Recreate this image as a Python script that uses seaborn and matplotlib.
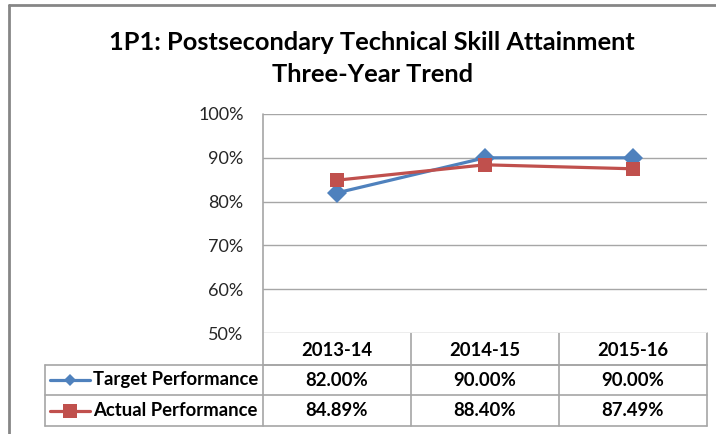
import matplotlib
matplotlib.use('Agg')
import matplotlib.pyplot as plt
import seaborn as sns
import pandas as pd

years = ['2013-14', '2014-15', '2015-16']
target = [82.00, 90.00, 90.00]
actual = [84.89, 88.40, 87.49]
series_names = ['Target Performance', 'Actual Performance']
yticks = [50, 60, 70, 80, 90, 100]

sns.set_style('white')
plt.rcParams['font.family'] = ['Lato', 'DejaVu Sans']

blue = '#4F81BD'
red = '#C0504D'
grid_c = '#A6A6A6'

W, H = 716, 434
fig = plt.figure(figsize=(W / 100, H / 100), dpi=100)

# plot area in pixels
L, R, T, B = 263, 707, 114, 333
ax = fig.add_axes([L / W, 1 - B / H, (R - L) / W, (B - T) / H])

df = pd.DataFrame({
    'year': list(range(len(years))) * 2,
    'value': target + actual,
    'series': [series_names[0]] * 3 + [series_names[1]] * 3,
})
sns.lineplot(data=df, x='year', y='value', hue='series', style='series',
             palette=[blue, red], markers=['D', 's'], dashes=False,
             markersize=10, linewidth=2.3, markeredgewidth=0,
             legend=False, ax=ax)

ax.set_xlim(-0.5, len(years) - 0.5)
ax.set_ylim(50, 100)
ax.set_yticks(yticks)
ax.set_yticklabels([f'{v}%' for v in yticks], fontsize=13, color='#262626')
ax.set_xticks([])
ax.set_xlabel('')
ax.set_ylabel('')
ax.tick_params(axis='y', length=0, pad=14)
for v in yticks:
    ax.axhline(v, color=grid_c, lw=1, zorder=0)
for s in ax.spines.values():
    s.set_visible(False)
ax.axvline(-0.5, color=grid_c, lw=1.2)

# overlay in pixel coordinates for data table and border
ov = fig.add_axes([0, 0, 1, 1], zorder=-1)
ov.set_xlim(0, W)
ov.set_ylim(H, 0)
ov.axis('off')

# outer chart border (top and left visible)
ov.plot([9, W], [5, 5], color='#868686', lw=2)
ov.plot([9, 9], [5, H], color='#868686', lw=2)

# title
ov.text(372, 42, '1P1: Postsecondary Technical Skill Attainment', ha='center', va='center',
        fontsize=18.3, fontweight='bold', color='black')
ov.text(372, 74, 'Three-Year Trend', ha='center', va='center',
        fontsize=18.3, fontweight='bold', color='black')

# data table
row_y = [B, 365, 395, 426]
leg_left = 45
colw = (R - L) / len(years)
tkw = dict(color=grid_c, lw=1.2)
ov.plot([L, L], [T, row_y[-1]], **tkw)
ov.plot([R, R], [B, row_y[-1]], **tkw)
for i in range(1, len(years)):
    ov.plot([L + i * colw] * 2, [B, row_y[-1]], **tkw)
ov.plot([L, R], [row_y[1], row_y[1]], **tkw)
for y in row_y[1:]:
    ov.plot([leg_left, R], [y, y], **tkw)
ov.plot([leg_left, leg_left], [row_y[1], row_y[-1]], **tkw)

tfont = dict(fontsize=13.3, fontweight='bold', color='black', va='center')
for i, yr in enumerate(years):
    ov.text(L + (i + 0.5) * colw, (row_y[0] + row_y[1]) / 2 + 1, yr, ha='center', **tfont)
rows = [target, actual]
colors = [blue, red]
marks = ['D', 's']
msz = [6.5, 10]
for r, vals in enumerate(rows):
    yc = (row_y[r + 1] + row_y[r + 2]) / 2
    for i, v in enumerate(vals):
        ov.text(L + (i + 0.5) * colw, yc, f'{v:.2f}%', ha='center', **tfont)
    ov.plot([50, 90], [yc, yc], color=colors[r], lw=2.3)
    ov.plot([70], [yc], marker=marks[r], color=colors[r], markersize=msz[r], mew=0)
    ov.text(93, yc, series_names[r], ha='left', **tfont)

fig.savefig('out.png', dpi=100)
